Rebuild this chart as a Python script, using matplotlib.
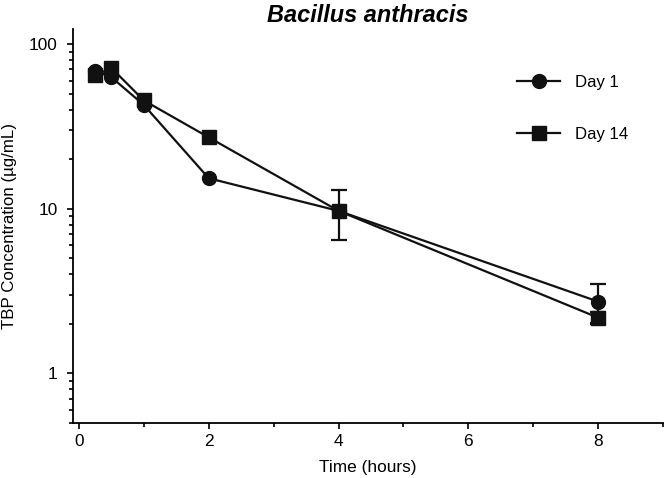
import matplotlib.pyplot as plt
import numpy as np

plt.rcParams['font.family'] = ['Liberation Sans', 'DejaVu Sans']

time_h = [0.25, 0.5, 1, 2, 4, 8]
day1 = [68.5, 62.8, 42.6, 15.3, 9.7, 2.73]
day1_err = [0, 0, 0, 0, 0.8, 0.74]
day14 = [64.4, 71.5, 45.4, 27.1, 9.7, 2.18]
day14_err = [0, 0, 0, 0, 3.2, 0.17]
# only the bars that stick out of the markers
show1 = [False, False, False, False, False, True]
show14 = [False, False, False, False, True, True]

fig = plt.figure(figsize=(6.66, 4.78), dpi=100)
ax = fig.add_axes([0.1096, 0.115, 0.886, 0.824])

col = '#111111'
# day 14 first so day 1 circles sit on top
e14 = ax.errorbar(time_h, day14, yerr=day14_err, errorevery=show14, color=col, marker='s', markersize=9.5,
                  lw=1.6, capsize=5.6, capthick=1.6, elinewidth=1.6)
e1 = ax.errorbar(time_h, day1, yerr=day1_err, errorevery=show1, color=col, marker='o', markersize=10,
                 lw=1.6, capsize=5.6, capthick=1.6, elinewidth=1.6)

ax.set_yscale('log')
ax.set_ylim(0.5, 123)
ax.set_xlim(-0.092, 9)
ax.set_xticks([0, 2, 4, 6, 8])
ax.set_xticks([1, 3, 5, 7, 9], minor=True)
ax.set_yticks([1, 10, 100])
ax.set_yticklabels(['1', '10', '100'])

for s in ['top', 'right']:
    ax.spines[s].set_visible(False)
for s in ['left', 'bottom']:
    ax.spines[s].set_linewidth(1.3)
ax.tick_params(axis='both', which='major', length=4.5, width=1.3, labelsize=12.4, color=col)
ax.tick_params(axis='both', which='minor', length=3, width=1.3, color=col)
ax.tick_params(axis='y', which='major', pad=6.5)

ax.set_xlabel('Time (hours)', fontsize=12.4, labelpad=7.5)
ax.set_ylabel('TBP Concentration (µg/mL)', fontsize=12.2, labelpad=8.5)
ax.set_title('Bacillus anthracis', fontsize=16.9, fontweight='bold', fontstyle='italic', pad=5)

ax.legend([e1[0], e14[0]], ['Day 1', 'Day 14'], loc='upper left', bbox_to_anchor=(0.754, 0.875),
          bbox_transform=fig.transFigure, frameon=False, fontsize=12.1, labelspacing=2.2,
          handlelength=2.55, handletextpad=0.9)

fig.savefig('out.png', dpi=100)
